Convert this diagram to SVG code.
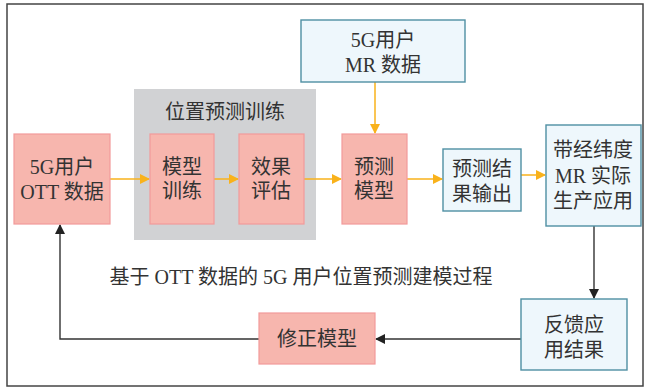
<svg xmlns="http://www.w3.org/2000/svg" width="645" height="388" viewBox="0 0 645 388">
<style>
.t{font-family:"Liberation Serif","Noto Sans CJK SC",serif;font-size:20px;fill:#333;text-anchor:middle;dominant-baseline:central}
.pink{fill:#f7b6ae;stroke:#f29a9a;stroke-width:1.2}
.blue{fill:#eef7fc;stroke:#4f8fa3;stroke-width:1.4}
.gray{fill:#d1d2d4}
.o{stroke:#f9b21b;stroke-width:1.5;fill:none}
.k{stroke:#333;stroke-width:1.4;fill:none}
</style>
<defs>
<marker id="ao" markerWidth="10" markerHeight="10" refX="9" refY="5" orient="auto" markerUnits="userSpaceOnUse"><path d="M0,0 L10,5 L0,10 Z" fill="#f9b21b"/></marker>
<marker id="ak" markerWidth="10" markerHeight="10" refX="9" refY="5" orient="auto" markerUnits="userSpaceOnUse"><path d="M0,0 L10,5 L0,10 Z" fill="#222"/></marker>
</defs>
<rect x="7" y="4" width="636" height="382" fill="#fff" stroke="#444" stroke-width="1.5"/>
<g id="group-training">
<rect class="gray" x="134" y="89" width="182" height="151"/>
<text class="t" x="225" y="112">位置预测训练</text>
</g>
<g id="connectors">
<line class="o" x1="110" y1="179" x2="149" y2="179" marker-end="url(#ao)"/>
<line class="o" x1="214" y1="179" x2="238" y2="179" marker-end="url(#ao)"/>
<line class="o" x1="304" y1="179" x2="341" y2="179" marker-end="url(#ao)"/>
<line class="o" x1="407" y1="179" x2="442" y2="179" marker-end="url(#ao)"/>
<line class="o" x1="521" y1="175" x2="545" y2="175" marker-end="url(#ao)"/>
<line class="o" x1="375" y1="82" x2="375" y2="133" marker-end="url(#ao)"/>
<line class="k" x1="594" y1="226" x2="594" y2="298" marker-end="url(#ak)"/>
<line class="k" x1="521" y1="339" x2="376" y2="339" marker-end="url(#ak)"/>
<polyline class="k" points="259,339 60,339 60,225" marker-end="url(#ak)"/>
</g>
<g id="mr-data">
<rect class="blue" x="301" y="20" width="164" height="62"/>
<text class="t" x="383" y="40">5G用户</text>
<text class="t" x="383" y="65">MR 数据</text>
</g>
<g id="ott-data">
<rect class="pink" x="14" y="134" width="96" height="90"/>
<text class="t" x="62" y="167">5G用户</text>
<text class="t" x="62" y="192">OTT 数据</text>
</g>
<g id="model-training">
<rect class="pink" x="150" y="134" width="64" height="90"/>
<text class="t" x="182" y="167">模型</text>
<text class="t" x="182" y="191">训练</text>
</g>
<g id="evaluation">
<rect class="pink" x="239" y="134" width="65" height="90"/>
<text class="t" x="271" y="167">效果</text>
<text class="t" x="271" y="191">评估</text>
</g>
<g id="prediction-model">
<rect class="pink" x="342" y="134" width="65" height="90"/>
<text class="t" x="374" y="167">预测</text>
<text class="t" x="374" y="191">模型</text>
</g>
<g id="prediction-output">
<rect class="blue" x="443" y="149" width="78" height="62"/>
<text class="t" x="482" y="169">预测结</text>
<text class="t" x="482" y="194">果输出</text>
</g>
<g id="production">
<rect class="blue" x="546" y="125" width="95" height="101"/>
<text class="t" x="593" y="150">带经纬度</text>
<text class="t" x="593" y="176">MR 实际</text>
<text class="t" x="593" y="201">生产应用</text>
</g>
<g id="feedback">
<rect class="blue" x="521" y="299" width="106" height="71"/>
<text class="t" x="574" y="325">反馈应</text>
<text class="t" x="574" y="350">用结果</text>
</g>
<g id="correction">
<rect class="pink" x="259" y="313" width="116" height="51"/>
<text class="t" x="317" y="339">修正模型</text>
</g>
<text class="t" x="301" y="277">基于 OTT 数据的 5G 用户位置预测建模过程</text>
</svg>
